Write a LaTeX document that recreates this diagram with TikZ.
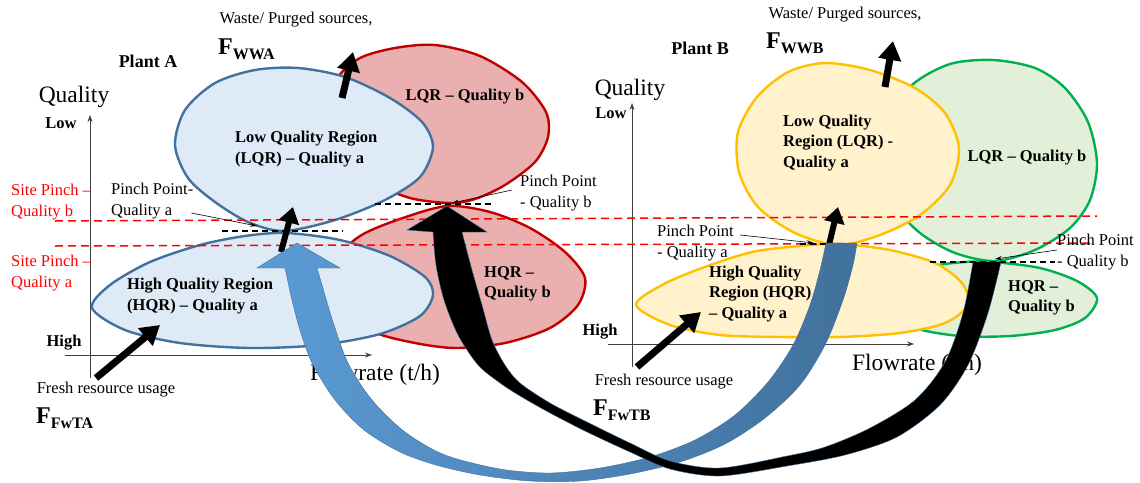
\documentclass[tikz,border=0pt]{standalone}
\usepackage{fontspec}
\setmainfont{Liberation Serif}
\usetikzlibrary{arrows.meta}
\definecolor{lblue}{HTML}{DEEBF7}
\definecolor{sblue}{HTML}{41719C}
\definecolor{bandA}{HTML}{5B9BD5}
\definecolor{bandB}{HTML}{41719C}
\definecolor{lred}{HTML}{EAB0B0}
\definecolor{sred}{HTML}{C00000}
\definecolor{lyel}{HTML}{FFF2CC}
\definecolor{syel}{HTML}{FFC000}
\definecolor{lgrn}{HTML}{E2F0D9}
\definecolor{sgrn}{HTML}{00B050}
\definecolor{axisc}{HTML}{404040}
\newcommand{\Flab}[1]{{\bfseries\fontsize{24}{24}\selectfont F\fontsize{16}{16}\selectfont\raisebox{-5pt}{#1}}}
\begin{document}
\begin{tikzpicture}[x=1pt,y=-1pt,
  region/.style={line width=2.4pt},
  bl/.style={font=\fontsize{16.5}{20.5}\selectfont\bfseries, inner sep=0pt, align=left},
  rl/.style={font=\fontsize{16.5}{20.5}\selectfont, inner sep=0pt, align=left},
  big/.style={font=\fontsize{23.5}{26}\selectfont, inner sep=0pt},
  sitelab/.style={rl, text=red, anchor=west},
  axisline/.style={draw=axisc, line width=0.8pt, -{Stealth[length=7pt,width=5pt]}},
  fatarrow/.style={line width=7pt, -{Triangle[width=22pt,length=19pt]}},
  smallarrow/.style={line width=6pt, -{Triangle[width=20pt,length=16pt]}},
  reddash/.style={draw=red, line width=1.5pt, dash pattern=on 8pt off 5pt},
  pinchdash/.style={draw=black, line width=1.2pt, dash pattern=on 6pt off 4pt},
  leader/.style={draw=black, line width=0.6pt, -{Stealth[length=7pt,width=4pt]}}
]
\useasboundingbox (0,0) rectangle (1140,482);

% ---------- axes ----------
\coordinate (ayA0) at (90,378); \coordinate (ayA1) at (90,115);
\coordinate (axA0) at (65,355); \coordinate (axA1) at (372,355);
\coordinate (ayB0) at (632,367); \coordinate (ayB1) at (632,103);
\coordinate (axB0) at (608,344); \coordinate (axB1) at (914,344);
\draw[axisline] (ayA0) -- (ayA1);
\draw[axisline] (axA0) -- (axA1);
\draw[axisline] (ayB0) -- (ayB1);
\draw[axisline] (axB0) -- (axB1);

% ---------- Plant A regions ----------
\filldraw[region, fill=lred, draw=sred] plot[smooth cycle] coordinates {(450,203) (410,198) (375,182) (350,150) (338,110) (338,78) (360,58) (395,48) (435,45) (480,56) (522,82) (546,112) (548,137) (535,162) (505,185) (475,199)};
\filldraw[region, fill=lred, draw=sred] plot[smooth cycle] coordinates {(447,206) (490,212) (530,228) (565,252) (585,278) (578,305) (550,328) (505,343) (455,348) (410,342) (370,330) (340,300) (335,262) (360,236) (400,219)};
\filldraw[region, fill=lblue, draw=sblue] plot[smooth cycle] coordinates {(298,68) (345,77) (390,98) (422,122) (433,147) (420,177) (385,200) (335,220) (284,231) (248,222) (215,202) (188,178) (175,145) (185,110) (215,83) (255,70)};
\filldraw[region, fill=lblue, draw=sblue] plot[smooth cycle] coordinates {(286,233) (340,240) (390,256) (425,277) (433,295) (420,316) (380,334) (320,345) (250,348) (180,343) (125,330) (92,308) (110,285) (150,262) (200,245) (245,236)};

% ---------- Plant B regions ----------
\filldraw[region, fill=lgrn, draw=sgrn] plot[smooth cycle] coordinates {(993,60) (1035,68) (1065,88) (1088,122) (1097,163) (1090,200) (1070,228) (1035,250) (995,261) (955,253) (920,233) (895,205) (885,165) (890,120) (912,85) (950,64)};
\filldraw[region, fill=lgrn, draw=sgrn] plot[smooth cycle] coordinates {(993,262) (1040,268) (1077,281) (1097,298) (1085,318) (1055,330) (1010,336) (960,336) (915,328) (890,310) (895,285) (930,267) (965,262)};
\filldraw[region, fill=lyel, draw=syel] plot[smooth cycle] coordinates {(825,63) (870,70) (915,88) (945,113) (959,148) (950,185) (920,215) (880,235) (838,245) (795,233) (758,207) (739,172) (738,132) (757,97) (788,72)};
\filldraw[region, fill=lyel, draw=syel] plot[smooth cycle] coordinates {(840,244) (890,250) (935,263) (962,283) (968,305) (945,323) (900,333) (840,337) (780,337) (720,335) (670,325) (636,305) (662,285) (702,268) (752,252) (800,246)};

% ---------- site pinch lines ----------
\coordinate (spb0) at (55,221); \coordinate (spb1) at (1097,216);
\coordinate (spa0) at (55,246); \coordinate (spa1) at (1095,243);
\draw[reddash] (spb0) -- (spb1);
\draw[reddash] (spa0) -- (spa1);

% ---------- pinch point lines ----------
\coordinate (ppA0) at (222,231); \coordinate (ppA1) at (343,231);
\coordinate (ppB0) at (375,204); \coordinate (ppB1) at (495,204);
\coordinate (pqA0) at (800,244); \coordinate (pqA1) at (836,244);
\coordinate (pqB0) at (930,262); \coordinate (pqB1) at (1055,262);
\draw[pinchdash] (ppA0) -- (ppA1);
\draw[pinchdash] (ppB0) -- (ppB1);
\draw[pinchdash] (pqA0) -- (pqA1);
\draw[pinchdash] (pqB0) -- (pqB1);

% ---------- texts Plant A ----------
\node[rl] (wasteA) at (296,20) {Waste/ Purged sources,};
\node[anchor=base west, inner sep=0pt] (FwwA) at (218,54) {\Flab{WWA}};
\node[font=\fontsize{18}{20}\selectfont\bfseries, inner sep=0pt] (plantA) at (148,61) {Plant A};
\node[big] (qualA) at (74,97) {Quality};
\node[bl] (lowA) at (61,123) {Low};
\node[bl] (highA) at (64,343) {High};
\node[big] (flowA) at (375,375) {Flowrate (t/h)};
\node[rl] (freshA) at (106,390) {Fresh resource usage};
\node[anchor=base west, inner sep=0pt] (FfwA) at (36,423) {\Flab{FwTA}};
\node[sitelab] (siteb) at (11,202) {Site Pinch –\\Quality b};
\node[sitelab] (sitea) at (11,273) {Site Pinch –\\Quality a};
\node[rl, anchor=west] (pinchAa) at (111,201) {Pinch Point-\\Quality a};
\node[rl, anchor=west] (pinchAb) at (520,193) {Pinch Point\\- Quality b};
\node[bl, anchor=west] (lqrAa) at (235,149) {Low Quality Region\\(LQR) – Quality a};
\node[bl] (lqrAb) at (465,97) {LQR – Quality b};
\node[bl, anchor=west] (hqrAa) at (127,296) {High Quality Region\\(HQR) – Quality a};
\node[bl, anchor=west] (hqrAb) at (484,284) {HQR –\\Quality b};

% ---------- texts Plant B ----------
\node[rl] (wasteB) at (845,15) {Waste/ Purged sources,};
\node[anchor=base west, inner sep=0pt] (FwwB) at (766,48) {\Flab{WWB}};
\node[font=\fontsize{18}{20}\selectfont\bfseries, inner sep=0pt] (plantB) at (700,48) {Plant B};
\node[big] (qualB) at (630,90) {Quality};
\node[bl] (lowB) at (611,113) {Low};
\node[bl] (highB) at (600,332) {High};
\node[big] (flowB) at (917,365) {Flowrate (t/h)};
\node[rl] (freshB) at (664,382) {Fresh resource usage};
\node[anchor=base west, inner sep=0pt] (FfwB) at (593,415) {\Flab{FwTB}};
\node[rl, anchor=west] (pinchBa) at (657,243) {Pinch Point\\- Quality a};
\node[rl, anchor=west] (pinchBb) at (1057,252) {Pinch Point\\- Quality b};
\node[bl, anchor=west] (lqrBa) at (783,143) {Low Quality\\Region (LQR) -\\Quality a};
\node[bl] (lqrBb) at (1027,158) {LQR – Quality b};
\node[bl, anchor=west] (hqrBa) at (709,294) {High Quality\\Region (HQR)\\– Quality a};
\node[bl, anchor=west] (hqrBb) at (1008,298) {HQR –\\Quality b};

% ---------- black flow arrows ----------
\coordinate (fA0) at (96,378); \coordinate (fA1) at (160,325);
\coordinate (fB0) at (637,367); \coordinate (fB1) at (701,312);
\coordinate (wA0) at (342,98); \coordinate (wA1) at (353,52);
\coordinate (wB0) at (885,87); \coordinate (wB1) at (893,41);
\coordinate (sA0) at (281,252); \coordinate (sA1) at (293,207);
\coordinate (sB0) at (829,245); \coordinate (sB1) at (838,207);
\draw[fatarrow] (fA0) -- (fA1);
\draw[fatarrow] (fB0) -- (fB1);
\draw[fatarrow] (wA0) -- (wA1);
\draw[fatarrow] (wB0) -- (wB1);
\draw[smallarrow] (sA0) -- (sA1);
\draw[smallarrow] (sB0) -- (sB1);

% ---------- blue band (Plant B -> Plant A, quality a) ----------
\shade[left color=bandA, right color=bandB, draw=bandB, line width=0.4pt]
  plot[smooth] coordinates {(285,268) (292,300) (300,330) (312,363) (335,400) (364,430) (400,452) (436,465) (480,475) (530,481) (580,481) (630,474) (680,462) (725,444) (765,418) (800,385) (825,345) (843,300) (853,265) (857,243)}
  -- plot[smooth] coordinates {(826,243) (820,270) (810,305) (793,345) (768,382) (735,415) (695,440) (650,457) (600,468) (550,473) (500,469) (445,455) (405,432) (372,400) (348,363) (333,322) (322,285) (317,268)}
  -- (340,268) -- (297,243) -- (257,268) -- cycle;

% ---------- black band (Plant B -> Plant A, quality b) ----------
\filldraw[fill=black, draw=sblue, line width=0.4pt]
  plot[smooth] coordinates {(433,232) (436,265) (444,300) (458,335) (478,365) (500,383) (520,396) (550,413) (587,432) (630,452) (670,469) (720,476) (787,466) (845,455) (897,437) (940,405) (968,365) (988,313) (1001,262)}
  -- plot[smooth] coordinates {(973,262) (963,313) (945,362) (915,400) (870,428) (825,447) (787,456) (720,468) (670,461) (630,443) (587,422) (550,403) (520,383) (505,365) (492,340) (482,305) (472,270) (462,232)}
  -- (487,232) -- (447,206) -- (407,230) -- cycle;

% ---------- leaders ----------
\draw[leader] (pinchAa.east |- 0,213) ++(-2,0) coordinate (lAa) -- (257,226) coordinate (tAa);
\draw[leader] (512,190) coordinate (lAb) -- (452,203) coordinate (tAb);
\draw[leader] (740,235) coordinate (lBa) -- (814,243) coordinate (tBa);
\draw[leader] (1057,250) coordinate (lBb) -- (995,259) coordinate (tBb);
\end{tikzpicture}
\end{document}
